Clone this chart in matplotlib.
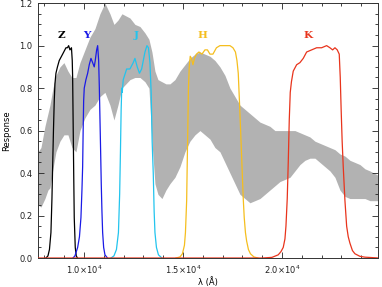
import matplotlib
matplotlib.use("Agg")
import matplotlib.pyplot as plt
from matplotlib.ticker import MultipleLocator, FixedLocator, FormatStrFormatter

# ---- spectrum envelope (wavelength in Angstrom) ----
spec_wave = [7677, 7828, 8030, 8182, 8283, 8434, 8586, 8788, 8990, 9192, 9394, 9596,
             9798, 10050, 10303, 10555, 10808, 11060, 11313, 11515, 11717, 11919, 12121,
             12323, 12575, 12828, 13080, 13282, 13434, 13585, 13737, 13939, 14141, 14343,
             14595, 14848, 15101, 15353, 15606, 15858, 16111, 16363, 16616, 16868, 17121,
             17373, 17626, 17878, 18131, 18383, 18636, 18888, 19141, 19393, 19646, 19898,
             20151, 20403, 20656, 20908, 21161, 21413, 21666, 21918, 22171, 22423, 22676,
             22928, 23181, 23433, 23686, 23938, 24191, 24443, 24847]
spec_upper = [0.50, 0.52, 0.62, 0.68, 0.72, 0.80, 0.86, 0.90, 0.92, 0.88, 0.85, 0.85,
              0.92, 0.98, 1.04, 1.08, 1.15, 1.20, 1.15, 1.10, 1.12, 1.15, 1.14,
              1.13, 1.10, 1.09, 1.06, 1.03, 0.97, 0.88, 0.84, 0.83, 0.82, 0.82,
              0.84, 0.88, 0.91, 0.94, 0.96, 0.97, 0.96, 0.95, 0.93, 0.90, 0.86,
              0.80, 0.76, 0.72, 0.70, 0.68, 0.66, 0.64, 0.63, 0.62, 0.60, 0.60,
              0.60, 0.60, 0.60, 0.59, 0.58, 0.57, 0.55, 0.54, 0.53, 0.52, 0.51,
              0.49, 0.48, 0.46, 0.45, 0.44, 0.42, 0.41, 0.39]
spec_lower = [0.25, 0.24, 0.28, 0.32, 0.33, 0.42, 0.50, 0.55, 0.58, 0.58, 0.52, 0.50,
              0.60, 0.66, 0.70, 0.72, 0.76, 0.78, 0.72, 0.65, 0.72, 0.80, 0.82,
              0.84, 0.85, 0.85, 0.83, 0.80, 0.55, 0.35, 0.30, 0.28, 0.32, 0.35,
              0.38, 0.43, 0.50, 0.55, 0.58, 0.60, 0.58, 0.56, 0.52, 0.50, 0.45,
              0.40, 0.35, 0.30, 0.28, 0.26, 0.27, 0.28, 0.30, 0.32, 0.34, 0.36,
              0.37, 0.38, 0.41, 0.44, 0.46, 0.47, 0.47, 0.45, 0.43, 0.41, 0.38,
              0.32, 0.29, 0.28, 0.28, 0.28, 0.28, 0.27, 0.27]

# ---- filter curves ----
z_wave = [8081, 8182, 8258, 8333, 8384, 8419, 8460, 8500, 8535, 8586, 8662, 8753, 8924,
          9091, 9167, 9227, 9293, 9369, 9409, 9429, 9460, 9485, 9510, 9561, 9611, 9672]
z_resp = [0.0, 0.01, 0.04, 0.12, 0.28, 0.43, 0.60, 0.74, 0.82, 0.87, 0.90, 0.93, 0.96,
          0.99, 0.99, 1.00, 0.98, 0.99, 0.93, 0.85, 0.59, 0.38, 0.19, 0.05, 0.01, 0.0]

y_wave = [9445, 9545, 9682, 9773, 9848, 9899, 9934, 9960, 9985, 10015, 10101, 10187,
          10268, 10354, 10439, 10520, 10571, 10641, 10692, 10742, 10778, 10808, 10843,
          10874, 10909, 10944, 10995, 11061, 11187]
y_resp = [0.0, 0.01, 0.05, 0.10, 0.19, 0.32, 0.43, 0.60, 0.74, 0.80, 0.84, 0.87,
          0.91, 0.94, 0.92, 0.90, 0.93, 0.98, 1.00, 0.93, 0.80, 0.66, 0.50,
          0.35, 0.22, 0.12, 0.05, 0.015, 0.0]

j_wave = [11364, 11515, 11641, 11742, 11803, 11843, 11879, 11909, 11934, 11985, 12157,
          12323, 12490, 12575, 12691, 12803, 12914, 13081, 13182, 13257, 13333, 13394,
          13444, 13500, 13545, 13586, 13661, 13762, 13939]
j_resp = [0.0, 0.01, 0.04, 0.12, 0.30, 0.50, 0.70, 0.80, 0.78, 0.84, 0.89,
          0.89, 0.92, 0.94, 0.90, 0.87, 0.89, 0.97, 1.00, 0.99, 0.92, 0.78,
          0.55, 0.40, 0.22, 0.12, 0.05, 0.015, 0.0]

h_wave = [14646, 14848, 14974, 15075, 15126, 15187, 15217, 15247, 15277, 15318, 15368,
          15429, 15505, 15581, 15682, 15808, 15959, 16111, 16237, 16363, 16515, 16691,
          16868, 17196, 17373, 17525, 17651, 17727, 17793, 17843, 17904, 17954, 17995,
          18045, 18095, 18156, 18216, 18307, 18408, 18585, 18787]
h_resp = [0.0, 0.005, 0.02, 0.06, 0.12, 0.27, 0.45, 0.62, 0.80, 0.90, 0.95,
          0.94, 0.91, 0.94, 0.96, 0.97, 0.96, 0.98, 0.98, 0.96, 0.96, 0.99,
          1.00, 1.00, 1.00, 0.99, 0.97, 0.93, 0.87, 0.76, 0.62, 0.50, 0.40,
          0.28, 0.19, 0.12, 0.08, 0.04, 0.02, 0.005, 0.0]

k_wave = [7600, 18989, 19494, 19812, 19949, 20065, 20151, 20202, 20267, 20318, 20369,
          20419, 20479, 20570, 20741, 20908, 21075, 21247, 21499, 21752, 22004, 22256,
          22423, 22559, 22676, 22792, 22893, 22944, 22989, 23040, 23095, 23181, 23267,
          23348, 23433, 23560, 23686, 23938, 24191, 24900]
k_resp = [0.0, 0.0, 0.003, 0.015, 0.03, 0.05, 0.09, 0.15, 0.28, 0.45, 0.65,
          0.78, 0.83, 0.88, 0.91, 0.92, 0.94, 0.97, 0.98, 0.99, 0.99, 1.00,
          0.99, 0.98, 0.99, 0.98, 0.96, 0.85, 0.70, 0.55, 0.43, 0.27, 0.15,
          0.10, 0.07, 0.035, 0.02, 0.008, 0.004, 0.0]

band_names = ["Z", "Y", "J", "H", "K"]
band_colors = ["#000000", "#1a1ae6", "#22c4ee", "#f5be1e", "#e8341c"]
label_wave = [8840, 10150, 12630, 15960, 21320]
label_y = 1.025

xtick_vals = [10000, 15000, 20000]
xtick_labels = [r"1.0$\times$10$^4$", r"1.5$\times$10$^4$", r"2.0$\times$10$^4$"]

fig = plt.figure(figsize=(3.82, 2.87), dpi=100)
ax = fig.add_axes([0.0995, 0.101, 0.89, 0.888])

ax.fill_between(spec_wave, spec_lower, spec_upper, color="#b2b2b2", lw=0, zorder=1)

curves = [(z_wave, z_resp), (y_wave, y_resp), (j_wave, j_resp), (h_wave, h_resp), (k_wave, k_resp)]
for (w, r), c in zip(curves, band_colors):
    ax.plot(w, r, color=c, lw=0.9, zorder=3)

for name, c, lx in zip(band_names, band_colors, label_wave):
    ax.text(lx, label_y, name, color=c, ha="center", va="bottom",
            fontsize=7.5, family="DejaVu Serif", fontweight="bold", zorder=4)

ax.set_xlim(7680, 24850)
ax.set_ylim(0, 1.2)

ax.xaxis.set_major_locator(FixedLocator(xtick_vals))
ax.xaxis.set_minor_locator(MultipleLocator(1000))
ax.set_xticklabels(xtick_labels)
ax.yaxis.set_major_locator(MultipleLocator(0.2))
ax.yaxis.set_minor_locator(MultipleLocator(0.05))
ax.yaxis.set_major_formatter(FormatStrFormatter("%.1f"))

ax.tick_params(which="both", direction="in", top=True, right=True, labelsize=6,
               colors="#222222", width=0.6)
ax.tick_params(which="major", length=4.5, pad=4)
ax.tick_params(which="minor", length=2.5)
for s in ax.spines.values():
    s.set_linewidth(0.7)
    s.set_color("#333333")

ax.set_xlabel("λ (Å)", fontsize=6, labelpad=0.5)
ax.set_ylabel("Response", fontsize=6, labelpad=6)

fig.savefig("out.png", dpi=100)
